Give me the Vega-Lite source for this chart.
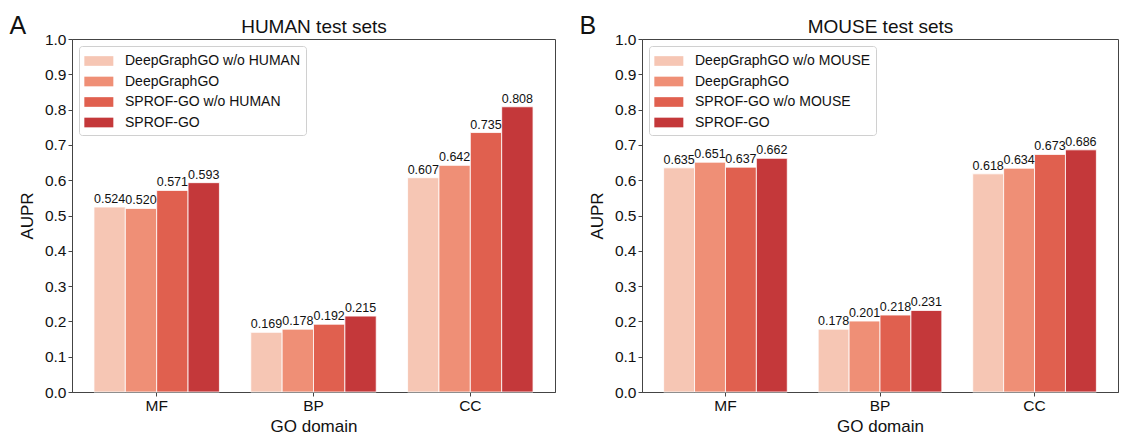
{
  "$schema": "https://vega.github.io/schema/vega-lite/v6.json",
  "padding": {"left": 8, "top": 13, "right": 0, "bottom": 0},
  "config": {
    "font": "Liberation Sans",
    "view": {"stroke": "#444", "strokeWidth": 1},
    "axis": {"domainColor": "#444", "tickColor": "#444", "labelColor": "#111", "titleColor": "#111", "titleFontWeight": "normal", "grid": false, "labelFontSize": 15.5, "titleFontSize": 17, "tickSize": 4, "labelPadding": 2},
    "title": {"fontWeight": "normal", "fontSize": 25, "color": "#111", "anchor": "start", "frame": "bounds"},
    "legend": {"orient": "top-left", "offset": 7, "title": null, "labelFontSize": 14, "labelColor": "#111", "symbolType": "M-1,-0.5H2V0.5H-1Z", "symbolSize": 374, "symbolStrokeWidth": 0, "labelOffset": 21, "rowPadding": 3.5, "padding": 5, "strokeColor": "#d0d0d0", "fillColor": "white", "cornerRadius": 3, "labelLimit": 400}
  },
  "datasets": {
    "d": [
      {"panel": "HUMAN", "domain": "MF", "method": "DeepGraphGO w/o HUMAN", "value": 0.524},
      {"panel": "HUMAN", "domain": "MF", "method": "DeepGraphGO", "value": 0.520},
      {"panel": "HUMAN", "domain": "MF", "method": "SPROF-GO w/o HUMAN", "value": 0.571},
      {"panel": "HUMAN", "domain": "MF", "method": "SPROF-GO", "value": 0.593},
      {"panel": "HUMAN", "domain": "BP", "method": "DeepGraphGO w/o HUMAN", "value": 0.169},
      {"panel": "HUMAN", "domain": "BP", "method": "DeepGraphGO", "value": 0.178},
      {"panel": "HUMAN", "domain": "BP", "method": "SPROF-GO w/o HUMAN", "value": 0.192},
      {"panel": "HUMAN", "domain": "BP", "method": "SPROF-GO", "value": 0.215},
      {"panel": "HUMAN", "domain": "CC", "method": "DeepGraphGO w/o HUMAN", "value": 0.607},
      {"panel": "HUMAN", "domain": "CC", "method": "DeepGraphGO", "value": 0.642},
      {"panel": "HUMAN", "domain": "CC", "method": "SPROF-GO w/o HUMAN", "value": 0.735},
      {"panel": "HUMAN", "domain": "CC", "method": "SPROF-GO", "value": 0.808},
      {"panel": "MOUSE", "domain": "MF", "method": "DeepGraphGO w/o MOUSE", "value": 0.635},
      {"panel": "MOUSE", "domain": "MF", "method": "DeepGraphGO", "value": 0.651},
      {"panel": "MOUSE", "domain": "MF", "method": "SPROF-GO w/o MOUSE", "value": 0.637},
      {"panel": "MOUSE", "domain": "MF", "method": "SPROF-GO", "value": 0.662},
      {"panel": "MOUSE", "domain": "BP", "method": "DeepGraphGO w/o MOUSE", "value": 0.178},
      {"panel": "MOUSE", "domain": "BP", "method": "DeepGraphGO", "value": 0.201},
      {"panel": "MOUSE", "domain": "BP", "method": "SPROF-GO w/o MOUSE", "value": 0.218},
      {"panel": "MOUSE", "domain": "BP", "method": "SPROF-GO", "value": 0.231},
      {"panel": "MOUSE", "domain": "CC", "method": "DeepGraphGO w/o MOUSE", "value": 0.618},
      {"panel": "MOUSE", "domain": "CC", "method": "DeepGraphGO", "value": 0.634},
      {"panel": "MOUSE", "domain": "CC", "method": "SPROF-GO w/o MOUSE", "value": 0.673},
      {"panel": "MOUSE", "domain": "CC", "method": "SPROF-GO", "value": 0.686}
    ]
  },
  "spacing": 22,
  "hconcat": [
    {
      "width": 483, "height": 353,
      "title": {"text": "A", "dx": -9, "dy": 26},
      "data": {"name": "d"},
      "transform": [{"filter": "datum.panel == 'HUMAN'"}],
      "encoding": {
        "xOffset": {"field": "method", "type": "nominal", "sort": ["DeepGraphGO w/o HUMAN", "DeepGraphGO", "SPROF-GO w/o HUMAN", "SPROF-GO"], "scale": {"paddingInner": 0, "paddingOuter": 0}},
        "y": {"field": "value", "type": "quantitative", "scale": {"domain": [0, 1]}, "axis": {"title": "AUPR", "values": [0, 0.1, 0.2, 0.3, 0.4, 0.5, 0.6, 0.7, 0.8, 0.9, 1.0], "format": ".1f", "titlePadding": 8}}
      },
      "layer": [
        {
          "mark": {"type": "bar", "stroke": "white", "strokeWidth": 0.8},
          "encoding": {
            "x": {"field": "domain", "type": "nominal", "sort": ["MF", "BP", "CC"], "scale": {"paddingInner": 0.2, "paddingOuter": 0.14}, "axis": {"title": "GO domain", "labelAngle": 0, "titlePadding": 5}},
            "color": {"field": "method", "type": "nominal", "sort": ["DeepGraphGO w/o HUMAN", "DeepGraphGO", "SPROF-GO w/o HUMAN", "SPROF-GO"], "scale": {"domain": ["DeepGraphGO w/o HUMAN", "DeepGraphGO", "SPROF-GO w/o HUMAN", "SPROF-GO"], "range": ["#f6c6b4", "#ef8f76", "#e0604f", "#c4383a"]}}
          }
        },
        {
          "mark": {"type": "text", "baseline": "bottom", "dy": -1, "fontSize": 12.5, "color": "#111"},
          "encoding": {
            "x": {"field": "domain", "type": "nominal", "sort": ["MF", "BP", "CC"], "scale": {"paddingInner": 0.2, "paddingOuter": 0.14}, "axis": {"orient": "top", "labels": false, "ticks": false, "domain": false, "title": "HUMAN test sets", "titleFontSize": 19, "titlePadding": 3}},
            "text": {"field": "value", "type": "quantitative", "format": ".3f"}
          }
        }
      ],
      "resolve": {"axis": {"x": "independent"}}
    },
    {
      "width": 476, "height": 353,
      "title": {"text": "B", "dx": -9, "dy": 26},
      "data": {"name": "d"},
      "transform": [{"filter": "datum.panel == 'MOUSE'"}],
      "encoding": {
        "xOffset": {"field": "method", "type": "nominal", "sort": ["DeepGraphGO w/o MOUSE", "DeepGraphGO", "SPROF-GO w/o MOUSE", "SPROF-GO"], "scale": {"paddingInner": 0, "paddingOuter": 0}},
        "y": {"field": "value", "type": "quantitative", "scale": {"domain": [0, 1]}, "axis": {"title": "AUPR", "values": [0, 0.1, 0.2, 0.3, 0.4, 0.5, 0.6, 0.7, 0.8, 0.9, 1.0], "format": ".1f", "titlePadding": 8}}
      },
      "layer": [
        {
          "mark": {"type": "bar", "stroke": "white", "strokeWidth": 0.8},
          "encoding": {
            "x": {"field": "domain", "type": "nominal", "sort": ["MF", "BP", "CC"], "scale": {"paddingInner": 0.2, "paddingOuter": 0.14}, "axis": {"title": "GO domain", "labelAngle": 0, "titlePadding": 5}},
            "color": {"field": "method", "type": "nominal", "sort": ["DeepGraphGO w/o MOUSE", "DeepGraphGO", "SPROF-GO w/o MOUSE", "SPROF-GO"], "scale": {"domain": ["DeepGraphGO w/o MOUSE", "DeepGraphGO", "SPROF-GO w/o MOUSE", "SPROF-GO"], "range": ["#f6c6b4", "#ef8f76", "#e0604f", "#c4383a"]}}
          }
        },
        {
          "mark": {"type": "text", "baseline": "bottom", "dy": -1, "fontSize": 12.5, "color": "#111"},
          "encoding": {
            "x": {"field": "domain", "type": "nominal", "sort": ["MF", "BP", "CC"], "scale": {"paddingInner": 0.2, "paddingOuter": 0.14}, "axis": {"orient": "top", "labels": false, "ticks": false, "domain": false, "title": "MOUSE test sets", "titleFontSize": 19, "titlePadding": 3}},
            "text": {"field": "value", "type": "quantitative", "format": ".3f"}
          }
        }
      ],
      "resolve": {"axis": {"x": "independent"}}
    }
  ],
  "resolve": {"scale": {"color": "independent", "xOffset": "independent"}}
}
